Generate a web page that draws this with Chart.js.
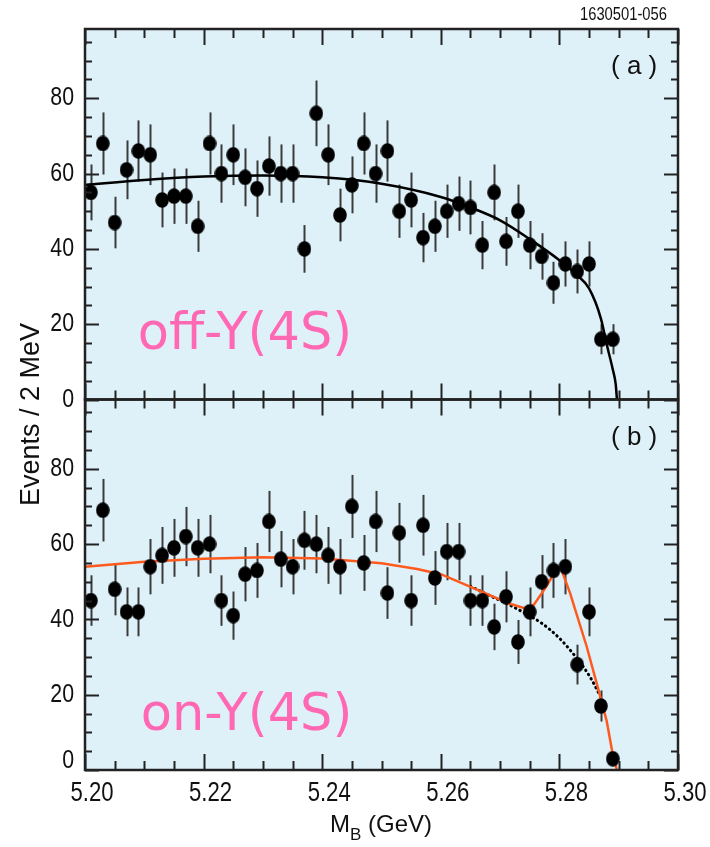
<!DOCTYPE html>
<html>
<head>
<meta charset="utf-8">
<script src="https://cdn.jsdelivr.net/npm/chart.js@4.4.1/dist/chart.umd.min.js"></script>
<style>
  html, body { margin: 0; padding: 0; background: #fff; }
  #wrap { width: 710px; height: 847px; }
</style>
</head>
<body>
<div id="wrap"><canvas id="chart" width="710" height="847"></canvas></div>
<script>
// 2 MeV bins of beam-constrained mass
const binCenters = [
  5.201, 5.203, 5.205, 5.207, 5.209, 5.211, 5.213, 5.215, 5.217, 5.219,
  5.221, 5.223, 5.225, 5.227, 5.229, 5.231, 5.233, 5.235, 5.237, 5.239,
  5.241, 5.243, 5.245, 5.247, 5.249, 5.251, 5.253, 5.255, 5.257, 5.259,
  5.261, 5.263, 5.265, 5.267, 5.269, 5.271, 5.273, 5.275, 5.277, 5.279,
  5.281, 5.283, 5.285, 5.287, 5.289
];
// (a) continuum data
const offCounts = [
  55, 68, 47, 61, 66, 65, 53, 54, 54, 46,
  68, 60, 65, 59, 56, 62, 60, 60, 40, 76,
  65, 49, 57, 68, 60, 66, 50, 53, 43, 46,
  50, 52, 51, 41, 55, 42, 50, 41, 38, 31,
  36, 34, 36, 16, 16
];
// (b) on-resonance data
const onCounts = [
  45, 69, 48, 42, 42, 54, 57, 59, 62, 59,
  60, 45, 41, 52, 53, 66, 56, 54, 61, 60,
  57, 54, 70, 55, 66, 47, 63, 45, 65, 51,
  58, 58, 45, 45, 38, 46, 34, 42, 50, 53,
  54, 28, 42, 17, 3
];
// background shape fitted to (a)
const offFitMass   = [5.200, 5.210, 5.220, 5.230, 5.240, 5.250, 5.260, 5.265, 5.270, 5.275, 5.280, 5.283, 5.285, 5.287, 5.288, 5.289, 5.2895, 5.2897];
const offFitEvents = [57.0, 58.3, 59.2, 59.5, 59.0, 57.3, 53.8, 51.0, 47.6, 42.6, 37.0, 33.0, 29.5, 21.5, 14.5, 8.0, 4.0, 0];
// signal + background fit to (b)
const onFitMass   = [5.200, 5.210, 5.220, 5.230, 5.240, 5.250, 5.256, 5.260, 5.2655, 5.2714, 5.2741, 5.2757, 5.2777, 5.2792, 5.2802, 5.2818, 5.2846, 5.2869, 5.2880, 5.2889, 5.2897];
const onFitEvents = [54.0, 55.3, 56.1, 56.5, 56.2, 54.9, 53.4, 52.0, 48.3, 44.3, 43.0, 43.9, 48.5, 52.5, 53.8, 47.0, 32.8, 19.5, 12.8, 5.0, 0];
// background component of (b)
const onBkgMass   = [5.265, 5.268, 5.271, 5.274, 5.277, 5.280, 5.282, 5.284, 5.2855, 5.287];
const onBkgEvents = [48.8, 46.5, 44.3, 41.8, 39.0, 35.0, 31.5, 27.5, 23.8, 19.3];

const massTicks = [5.20, 5.22, 5.24, 5.26, 5.28, 5.30];
const eventTicks = [0, 20, 40, 60, 80];

const toPoints = (xs, ys) => xs.map((x, i) => ({ x: x, y: ys[i] }));

// filled ellipse used as the data marker
const marker = document.createElement('canvas');
marker.width = 14; marker.height = 16;
(function () {
  const c = marker.getContext('2d');
  c.fillStyle = '#000';
  c.beginPath();
  c.ellipse(7, 8, 6.8, 7.8, 0, 0, Math.PI * 2);
  c.fill();
})();

const SANS = "'Liberation Sans', Arial, Helvetica, sans-serif";

// condensed Helvetica-style label: regular face squeezed horizontally
function narrowText(ctx, text, x, y, size, align) {
  ctx.save();
  ctx.font = size + 'px ' + SANS;
  ctx.textAlign = align;
  ctx.textBaseline = 'middle';
  ctx.translate(x, y);
  ctx.scale(0.82, 1);
  ctx.fillText(text, 0, 0);
  ctx.restore();
}

const panelFrame = {
  id: 'panelFrame',
  beforeDraw(chart) {
    const ctx = chart.ctx, a = chart.chartArea;
    ctx.save();
    ctx.fillStyle = '#dff1f8';
    ctx.fillRect(a.left, a.top, a.right - a.left, a.bottom - a.top);
    ctx.restore();
  },
  beforeDatasetsDraw(chart) {
    // Poisson error bars on the data points
    const ctx = chart.ctx, xs = chart.scales.x;
    ctx.save();
    ctx.strokeStyle = '#3a3a3a';
    ctx.lineWidth = 2;
    chart.data.datasets.forEach(ds => {
      if (!ds.errorBars) return;
      const ys = chart.scales[ds.yAxisID];
      ds.data.forEach(p => {
        const e = Math.sqrt(p.y);
        const px = Math.round(xs.getPixelForValue(p.x)) + 0.5;
        ctx.beginPath();
        ctx.moveTo(px, ys.getPixelForValue(Math.max(0, p.y - e)));
        ctx.lineTo(px, ys.getPixelForValue(p.y + e));
        ctx.stroke();
      });
    });
    ctx.restore();
  },
  afterDatasetsDraw(chart) {
    const ctx = chart.ctx, xs = chart.scales.x;
    ctx.save();
    ctx.strokeStyle = '#222';
    ctx.lineWidth = 2;
    for (const ys of [chart.scales.ya, chart.scales.yb]) {
      // inward ticks on all four sides of each panel
      for (let i = 0; i <= 20; i++) {
        const px = Math.round(xs.getPixelForValue(5.2 + i * 0.005)) + 0.5;
        const len = i % 4 === 0 ? 16 : 9;
        ctx.beginPath();
        ctx.moveTo(px, ys.top); ctx.lineTo(px, ys.top + len);
        ctx.moveTo(px, ys.bottom); ctx.lineTo(px, ys.bottom - len);
        ctx.stroke();
      }
      for (let v = 0; v <= ys.max; v += 5) {
        const py = Math.round(ys.getPixelForValue(v)) + 0.5;
        const len = v % 20 === 0 ? 14 : 7;
        ctx.beginPath();
        ctx.moveTo(xs.left, py); ctx.lineTo(xs.left + len, py);
        ctx.moveTo(xs.right, py); ctx.lineTo(xs.right - len, py);
        ctx.stroke();
      }
      ctx.lineWidth = 2.5;
      ctx.strokeRect(xs.left, ys.top, xs.right - xs.left, ys.bottom - ys.top);
      ctx.lineWidth = 2;
    }
    ctx.restore();
  },
  afterDraw(chart) {
    const ctx = chart.ctx, xs = chart.scales.x, ya = chart.scales.ya, yb = chart.scales.yb;
    ctx.save();
    ctx.fillStyle = '#111';

    // tick labels
    eventTicks.forEach(v => {
      narrowText(ctx, String(v), xs.left - 11, ya.getPixelForValue(v), 26, 'right');
      const lift = v === 0 ? -9 : 0;
      narrowText(ctx, String(v), xs.left - 11, yb.getPixelForValue(v) + lift, 26, 'right');
    });
    massTicks.forEach(m => {
      narrowText(ctx, m.toFixed(2), xs.getPixelForValue(m) + 7, yb.bottom + 24, 27, 'center');
    });
    narrowText(ctx, '1630501-056', xs.right - 11, ya.top - 14, 18, 'right');

    ctx.textBaseline = 'middle';
    ctx.textAlign = 'center';
    ctx.font = '26px ' + SANS;
    ctx.fillText('( a )', xs.getPixelForValue(5.2926), ya.getPixelForValue(88.3));
    ctx.fillText('( b )', xs.getPixelForValue(5.2926), yb.getPixelForValue(88.3));

    // axis titles
    ctx.font = '27px ' + SANS;
    ctx.save();
    ctx.translate(32, (ya.top + yb.bottom) / 2 + 15);
    ctx.rotate(-Math.PI / 2);
    ctx.textAlign = 'center';
    ctx.fillText('Events / 2 MeV', 0, 0);
    ctx.restore();

    ctx.textAlign = 'left';
    ctx.textBaseline = 'alphabetic';
    ctx.font = '24px ' + SANS;
    const mW = ctx.measureText('M').width;
    const restW = ctx.measureText(' (GeV)').width;
    ctx.font = '17px ' + SANS;
    const bW = ctx.measureText('B').width;
    let tx = 381 - (mW + bW + restW) / 2;
    const ty = 832;
    ctx.font = '24px ' + SANS;
    ctx.fillText('M', tx, ty); tx += mW;
    ctx.font = '17px ' + SANS;
    ctx.fillText('B', tx, ty + 8); tx += bW;
    ctx.font = '24px ' + SANS;
    ctx.fillText(' (GeV)', tx, ty);

    // sample labels
    ctx.fillStyle = '#ff69b4';
    ctx.font = '51px "DejaVu Sans", Verdana, sans-serif';
    ctx.fillText('off-Y(4S)', xs.getPixelForValue(5.2089), ya.getPixelForValue(13.3));
    ctx.fillText('on-Y(4S)', xs.getPixelForValue(5.2094), yb.getPixelForValue(10.6));
    ctx.restore();
  }
};

const yAxis = {
  type: 'linear',
  position: 'left',
  stack: 'panels',
  stackWeight: 1,
  min: 0,
  max: 98.4,
  afterBuildTicks: s => { s.ticks = eventTicks.map(v => ({ value: v })); },
  afterFit: s => { s.width = 85; },
  grid: { display: false, drawTicks: false },
  border: { display: false },
  ticks: { display: false }
};

new Chart(document.getElementById('chart'), {
  type: 'line',
  data: {
    datasets: [
      {
        yAxisID: 'ya', data: toPoints(binCenters, offCounts), showLine: false, errorBars: true,
        pointStyle: marker, order: 0
      },
      {
        yAxisID: 'yb', data: toPoints(binCenters, onCounts), showLine: false, errorBars: true,
        pointStyle: marker, order: 0
      },
      {
        yAxisID: 'ya', data: toPoints(offFitMass, offFitEvents), borderColor: '#000', borderWidth: 2.5,
        pointRadius: 0, cubicInterpolationMode: 'monotone', order: 1
      },
      {
        yAxisID: 'yb', data: toPoints(onFitMass, onFitEvents), borderColor: '#ff5a1e', borderWidth: 2.5,
        pointRadius: 0, tension: 0, order: 1
      },
      {
        yAxisID: 'yb', data: toPoints(onBkgMass, onBkgEvents), borderColor: '#000', borderWidth: 3,
        borderDash: [0.5, 4.5], borderCapStyle: 'round',
        pointRadius: 0, cubicInterpolationMode: 'monotone', order: 2
      }
    ]
  },
  options: {
    responsive: false,
    animation: false,
    devicePixelRatio: 1,
    layout: { padding: { left: 0, right: 32, top: 29, bottom: 0 } },
    plugins: { legend: { display: false }, tooltip: { enabled: false } },
    scales: {
      x: {
        type: 'linear',
        position: 'bottom',
        min: 5.2,
        max: 5.3,
        afterBuildTicks: s => { s.ticks = massTicks.map(v => ({ value: v })); },
        afterFit: s => { s.height = 77; },
        grid: { display: false, drawTicks: false },
        border: { display: false },
        ticks: { display: false }
      },
      yb: Object.assign({}, yAxis),
      ya: Object.assign({}, yAxis)
    }
  },
  plugins: [panelFrame]
});
</script>
</body>
</html>
